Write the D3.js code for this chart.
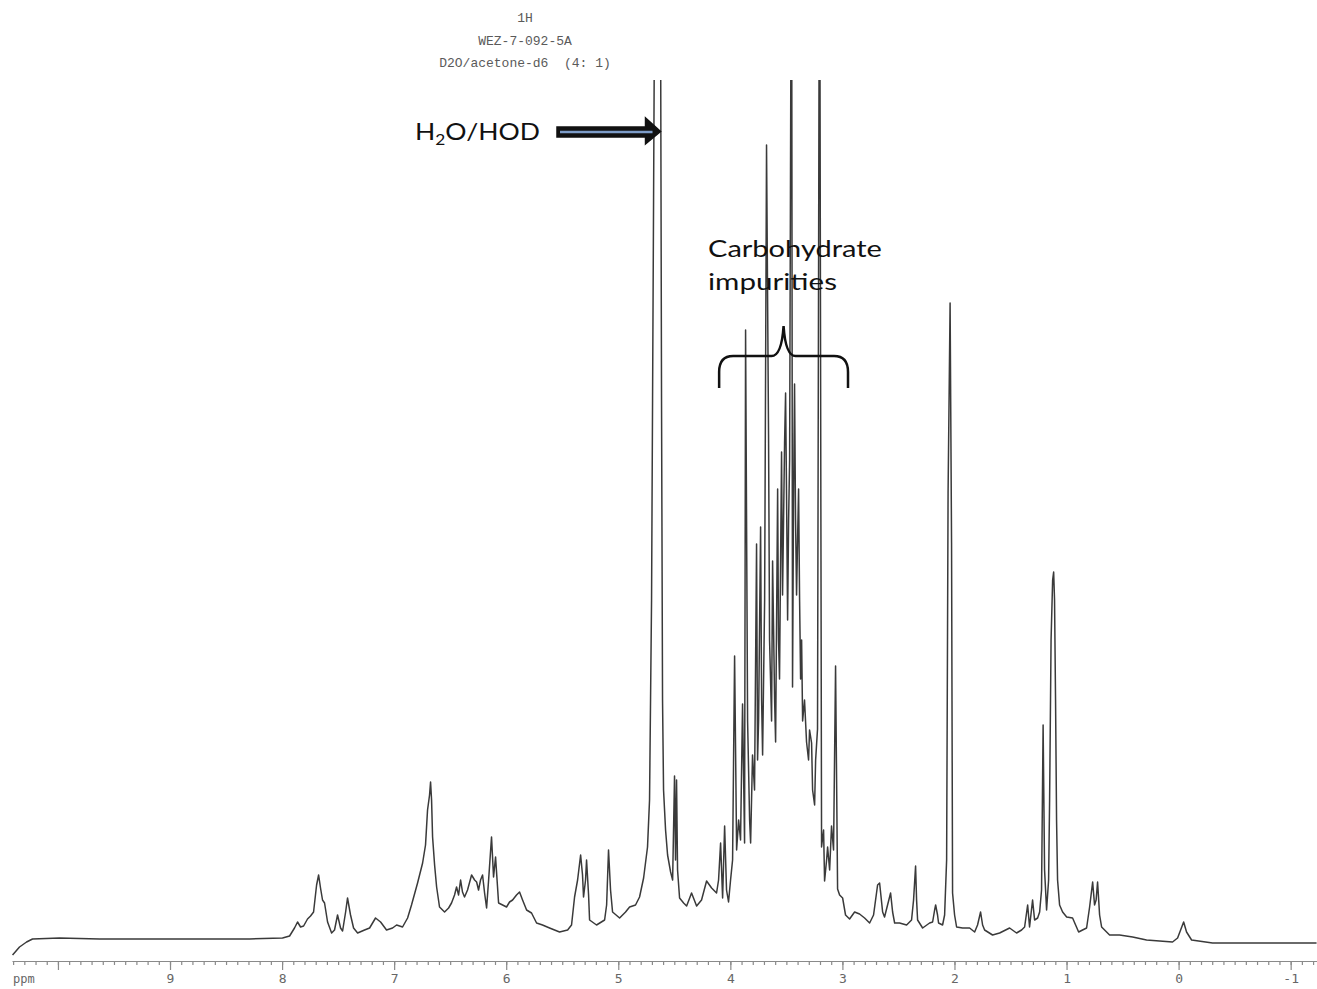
<!DOCTYPE html>
<html>
<head>
<meta charset="utf-8">
<script src="https://cdn.jsdelivr.net/npm/d3@7"></script>
<style>
body { margin: 0; background: #fff; }
</style>
</head>
<body>
<script>
var width = 1317,
    height = 989;

// spectrometer header
var header_lines = ['1H', 'WEZ-7-092-5A', 'D2O/acetone-d6  (4: 1)'];

// axis ticks (ppm)
var major_ticks = [10, 9, 8, 7, 6, 5, 4, 3, 2, 1, 0, -1];
var axis_title = 'ppm';

// annotations
var water_label = { pre: 'H', sub: '2', post: 'O/HOD' };
var carb_label = ['Carbohydrate', 'impurities'];
var carb_range = [4.1, 2.95];   // ppm span of the brace

// 1H trace: [ppm, intensity (a.u.)]
var spectrum = [
    [10.405,-12],[10.343,-4],[10.280,1],[10.227,4],[9.986,5],[9.629,4],[9.183,4],[8.736,4],[8.290,4],
    [7.996,5],[7.933,7],[7.889,15],[7.862,21],[7.835,16],[7.808,17],[7.773,24],[7.746,27],[7.719,31],
    [7.692,58],[7.674,68],[7.657,55],[7.639,43],[7.621,40],[7.594,21],[7.558,10],[7.532,13],[7.505,28],
    [7.478,15],[7.460,12],[7.433,31],[7.416,45],[7.389,28],[7.362,15],[7.326,10],[7.264,13],[7.219,15],
    [7.166,25],[7.121,21],[7.068,13],[7.014,15],[6.978,18],[6.925,16],[6.880,25],[6.845,38],[6.791,60],
    [6.746,80],[6.720,98],[6.702,133],[6.684,148],[6.675,161],[6.666,143],[6.657,106],[6.639,78],[6.621,56],
    [6.595,36],[6.550,31],[6.514,35],[6.488,40],[6.461,48],[6.443,56],[6.425,48],[6.407,63],[6.390,51],
    [6.372,46],[6.345,53],[6.309,68],[6.282,63],[6.264,61],[6.247,53],[6.229,63],[6.211,68],[6.193,50],
    [6.175,35],[6.157,63],[6.131,106],[6.113,66],[6.095,86],[6.068,40],[6.032,38],[5.997,36],[5.970,41],
    [5.943,43],[5.908,48],[5.881,51],[5.854,43],[5.818,33],[5.774,30],[5.729,20],[5.676,18],[5.613,15],
    [5.524,11],[5.452,13],[5.417,18],[5.390,46],[5.363,63],[5.336,88],[5.319,68],[5.310,46],[5.292,63],
    [5.283,83],[5.265,48],[5.256,23],[5.194,18],[5.122,23],[5.104,38],[5.087,93],[5.069,53],[5.051,31],
    [4.988,25],[4.935,31],[4.899,36],[4.846,38],[4.810,46],[4.774,65],[4.756,81],[4.739,96],[4.721,143],
    [4.712,243],[4.703,343],[4.694,543],[4.685,743],[4.676,950],[4.649,1500],[4.623,950],[4.614,543],
    [4.605,243],[4.596,153],[4.578,113],[4.560,88],[4.533,71],[4.515,63],[4.498,167],[4.489,83],[4.480,163],
    [4.471,73],[4.453,45],[4.417,40],[4.390,37],[4.346,50],[4.301,37],[4.257,43],[4.212,62],[4.167,55],
    [4.123,50],[4.105,63],[4.087,100],[4.069,45],[4.051,117],[4.034,53],[4.016,41],[3.998,63],[3.980,83],
    [3.962,287],[3.944,93],[3.926,123],[3.909,103],[3.891,239],[3.873,100],[3.864,613],[3.846,222],
    [3.828,123],[3.819,100],[3.802,188],[3.784,153],[3.766,399],[3.757,183],[3.748,222],[3.730,416],
    [3.721,243],[3.712,188],[3.694,343],[3.677,798],[3.659,508],[3.650,303],[3.632,222],[3.623,382],
    [3.605,243],[3.596,201],[3.578,454],[3.570,303],[3.561,264],[3.543,491],[3.534,348],[3.525,423],
    [3.516,500],[3.507,550],[3.498,443],[3.489,323],[3.480,423],[3.471,483],[3.454,1100],[3.445,256],
    [3.436,443],[3.427,559],[3.418,423],[3.409,348],[3.400,403],[3.391,454],[3.382,343],[3.373,264],
    [3.364,303],[3.355,222],[3.338,243],[3.320,201],[3.302,183],[3.293,213],[3.275,200],[3.266,153],
    [3.248,138],[3.239,183],[3.222,214],[3.204,1100],[3.186,96],[3.168,113],[3.159,62],[3.141,83],
    [3.132,96],[3.114,73],[3.097,117],[3.079,93],[3.061,277],[3.043,54],[3.025,48],[2.998,45],[2.972,28],
    [2.936,24],[2.891,31],[2.847,29],[2.802,25],[2.757,20],[2.722,28],[2.686,58],[2.668,60],[2.641,31],
    [2.624,26],[2.597,38],[2.570,50],[2.552,31],[2.534,20],[2.490,20],[2.427,18],[2.383,23],[2.365,43],
    [2.347,77],[2.338,43],[2.329,23],[2.284,15],[2.222,20],[2.195,21],[2.177,33],[2.168,38],[2.151,28],
    [2.142,20],[2.106,18],[2.088,28],[2.070,83],[2.057,450],[2.039,640],[2.026,400],[2.017,50],[1.999,28],
    [1.981,16],[1.928,15],[1.865,15],[1.820,11],[1.794,18],[1.767,31],[1.749,18],[1.731,13],[1.660,8],
    [1.597,10],[1.508,15],[1.446,10],[1.401,13],[1.374,16],[1.347,38],[1.330,16],[1.303,43],[1.285,23],
    [1.258,25],[1.240,31],[1.223,53],[1.209,218],[1.196,73],[1.178,33],[1.160,63],[1.151,143],[1.138,303],
    [1.124,363],[1.115,371],[1.107,343],[1.098,243],[1.089,123],[1.080,63],[1.062,38],[1.035,31],[0.999,26],
    [0.946,25],[0.919,18],[0.892,11],[0.857,13],[0.821,15],[0.794,36],[0.767,61],[0.750,38],[0.736,43],
    [0.723,61],[0.705,28],[0.687,16],[0.616,8],[0.527,8],[0.410,6],[0.286,3],[0.170,2],[0.054,1],
    [0.009,5],[-0.018,13],[-0.045,21],[-0.071,11],[-0.116,3],[-0.303,0],[-0.634,0],[-1.231,0]
];

var axis_y = 961;

var x = d3.scaleLinear().domain([10.41, -1.235]).range([12, width]);
var y = d3.scaleLinear().domain([0, 863]).range([943, 80]);

var svg = d3.select('body')
    .append('svg')
    .attr('width', width)
    .attr('height', height)
    .style('display', 'block');

svg.append('rect').attr('width', width).attr('height', height).attr('fill', '#fff');

// header
svg.append('g')
    .selectAll('text')
    .data(header_lines)
    .enter()
    .append('text')
    .attr('x', 525)
    .attr('y', function(d, i) { return 22 + i * 22.5; })
    .attr('text-anchor', 'middle')
    .style('font-family', '"Liberation Mono", "DejaVu Sans Mono", monospace')
    .style('font-size', '13px')
    .attr('fill', '#5a5a5a')
    .attr('xml:space', 'preserve')
    .text(function(d) { return d; });

// trace, clipped at the top of the chart paper
svg.append('clipPath')
    .attr('id', 'paper')
    .append('rect')
    .attr('x', 0)
    .attr('y', y(863))
    .attr('width', width)
    .attr('height', height - y(863));

var line = d3.line()
    .x(function(d) { return x(d[0]); })
    .y(function(d) { return y(d[1]); });

svg.append('path')
    .datum(spectrum)
    .attr('clip-path', 'url(#paper)')
    .attr('d', line)
    .attr('fill', 'none')
    .attr('stroke', '#3a3a3a')
    .attr('stroke-width', 1.5)
    .attr('stroke-linejoin', 'round');

// ppm axis
var minor_ticks = d3.range(-12, 105).map(function(d) { return d / 10; });

var minor_axis = svg.append('g')
    .attr('transform', `translate(0, ${axis_y})`)
    .call(d3.axisBottom(x).tickValues(minor_ticks).tickSize(4).tickSizeOuter(0).tickFormat(''));

var major_axis = svg.append('g')
    .attr('transform', `translate(0, ${axis_y})`)
    .call(d3.axisBottom(x)
        .tickValues(major_ticks)
        .tickSize(9)
        .tickSizeOuter(0)
        .tickPadding(4)
        .tickFormat(function(d) { return d === 10 ? '' : String(d); }));

major_axis.select('.domain').remove();
minor_axis.select('.domain').attr('stroke', '#8a8a8a').attr('stroke-width', 1.2);
svg.selectAll('.tick line').attr('stroke', '#8a8a8a').attr('stroke-width', 1.2);
svg.selectAll('.tick text')
    .attr('fill', '#666')
    .style('font-family', '"DejaVu Sans Mono", monospace')
    .style('font-size', '13px');

svg.append('text')
    .attr('x', 13)
    .attr('y', 983)
    .attr('fill', '#666')
    .style('font-family', '"DejaVu Sans Mono", monospace')
    .style('font-size', '12px')
    .text(axis_title);

// stretch a label to the width it has in the figure
function fit_width(sel, target) {
    var w = sel.node().getComputedTextLength();
    var x0 = +sel.attr('x'), y0 = +sel.attr('y');
    sel.attr('x', 0).attr('y', 0)
        .attr('transform', `translate(${x0}, ${y0}) scale(${target / w}, 1)`);
}

var label_font = 'Lato, "Open Sans", sans-serif';

// H2O/HOD label and arrow
var water_text = svg.append('text')
    .attr('x', 415)
    .attr('y', 140)
    .attr('fill', '#111')
    .style('font-family', label_font)
    .style('font-size', '23px');
water_text.append('tspan').text(water_label.pre);
water_text.append('tspan').attr('dy', 5).style('font-size', '15px').text(water_label.sub);
water_text.append('tspan').attr('dy', -5).text(water_label.post);
fit_width(water_text, 125);

var tip = x(4.623);
svg.append('path')
    .attr('d', `M557,127 L${tip - 15},127 L${tip - 15},118 L${tip},131.5 L${tip - 15},144 L${tip - 15},137 L557,137 Z`)
    .attr('fill', '#111')
    .attr('stroke', '#111')
    .attr('stroke-width', 1.5)
    .attr('stroke-linejoin', 'miter');
svg.append('line')
    .attr('x1', 560)
    .attr('x2', tip - 8)
    .attr('y1', 132)
    .attr('y2', 132)
    .attr('stroke', '#7d9cc8')
    .attr('stroke-width', 2.5);

// carbohydrate label and brace
svg.append('g')
    .selectAll('text')
    .data(carb_label)
    .enter()
    .append('text')
    .attr('x', 708)
    .attr('y', function(d, i) { return 257 + i * 33; })
    .attr('fill', '#111')
    .style('font-family', label_font)
    .style('font-size', '23px')
    .text(function(d) { return d; })
    .each(function(d, i) { fit_width(d3.select(this), i === 0 ? 174 : 129); });

var bx0 = x(carb_range[0]),
    bx1 = x(carb_range[1]),
    bxm = (bx0 + bx1) / 2;
svg.append('path')
    .attr('d', `M${bx0},388 L${bx0},372 Q${bx0},356 ${bx0 + 14},356 L${bxm - 12},356 ` +
               `Q${bxm - 2},356 ${bxm},326 Q${bxm + 2},356 ${bxm + 12},356 ` +
               `L${bx1 - 14},356 Q${bx1},356 ${bx1},372 L${bx1},388`)
    .attr('fill', 'none')
    .attr('stroke', '#111')
    .attr('stroke-width', 2.5);
</script>
</body>
</html>
